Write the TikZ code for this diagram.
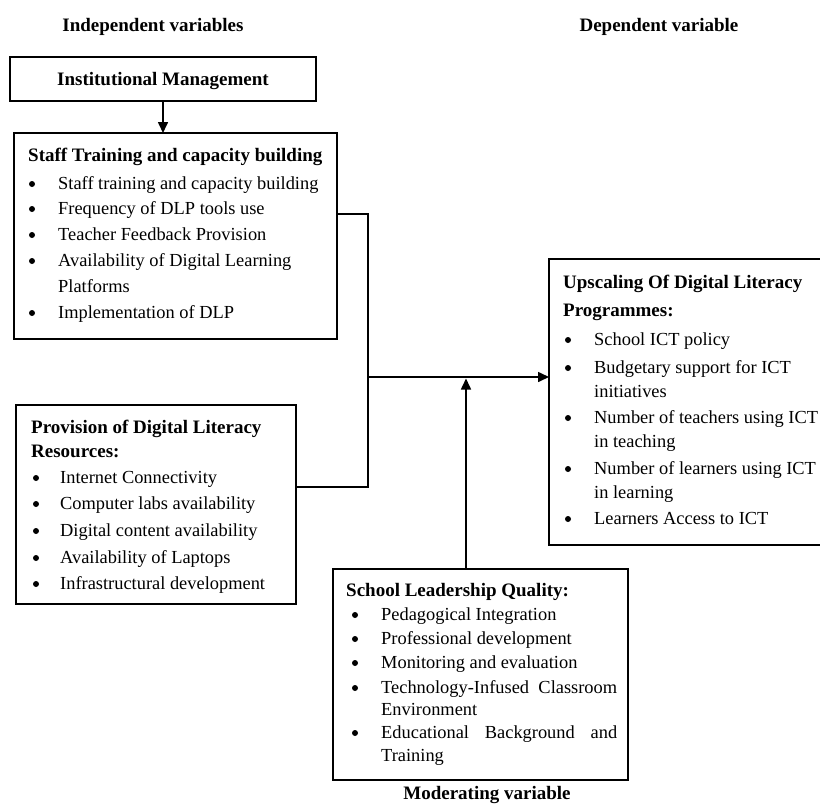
\documentclass[tikz,border=0pt]{standalone}
\usepackage{fontspec}
\setmainfont{Liberation Serif}
\usetikzlibrary{arrows.meta}
\begin{document}
\begin{tikzpicture}[x=1pt,y=-1pt,
  box/.style={draw, line width=1.6pt, inner sep=0pt, outer sep=0pt, anchor=north west},
  conn/.style={line width=1.6pt},
  arr/.style={line width=1.6pt, -{Triangle[length=11pt,width=10pt]}},
  txt/.style={anchor=base west, inner sep=0pt, font=\fontsize{18.4}{22}\selectfont},
  hd/.style={anchor=base west, inner sep=0pt, font=\fontsize{19}{22}\selectfont\bfseries},
  ttl/.style={anchor=base, inner sep=0pt, font=\fontsize{19}{22}\selectfont\bfseries},
  bul/.style={circle, fill, inner sep=0pt, minimum size=6pt, yshift=5pt}]
\useasboundingbox (0,0) rectangle (820,807);

% titles
\node[ttl] (indep) at (153,31) {Independent variables};
\node[ttl] (dep) at (659,31) {Dependent variable};
\node[ttl] (mod) at (487,799) {Moderating variable};

% boxes
\node[box, minimum width=306pt, minimum height=44pt] (inst) at (10,57) {};
\node[ttl] (insttxt) at (163,85) {Institutional Management};
\node[box, minimum width=323pt, minimum height=206pt] (staff) at (14,133) {};
\node[box, minimum width=280pt, minimum height=199pt] (prov) at (16,405) {};
\node[box, minimum width=295pt, minimum height=211pt] (school) at (333,569) {};
\node[box, minimum width=280pt, minimum height=286pt] (up) at (549,259) {};

% staff box text
\node[hd] (sh) at (28,161) {Staff Training and capacity building};
\foreach \y [count=\i] in {189,214,240,266,318}
  \node[bul] (sb\i) at (32,\y) {};
\foreach \y/\t [count=\i] in {189/Staff training and capacity building,
  214/Frequency of DLP tools use, 240/Teacher Feedback Provision,
  266/Availability of Digital Learning, 292/Platforms, 318/Implementation of DLP}
  \node[txt] (st\i) at (58,\y) {\t};

% provision box text
\node[hd] (ph1) at (31,433) {Provision of Digital Literacy};
\node[hd] (ph2) at (31,457) {Resources:};
\foreach \y [count=\i] in {483,509,536,563,589}
  \node[bul] (pb\i) at (36,\y) {};
\foreach \y/\t [count=\i] in {483/Internet Connectivity, 509/Computer labs availability,
  536/Digital content availability, 563/Availability of Laptops,
  589/Infrastructural development}
  \node[txt] (pt\i) at (60,\y) {\t};

% upscaling box text
\node[hd] (uh1) at (563,288) {Upscaling Of Digital Literacy};
\node[hd] (uh2) at (563,316) {Programmes:};
\foreach \y [count=\i] in {345,373,423,474,524}
  \node[bul] (ub\i) at (568,\y) {};
\foreach \y/\t [count=\i] in {345/School ICT policy, 373/Budgetary support for ICT,
  397/initiatives, 423/Number of teachers using ICT, 447/in teaching,
  474/Number of learners using ICT, 498/in learning, 524/Learners Access to ICT}
  \node[txt] (ut\i) at (594,\y) {\t};

% school box text
\node[hd] (lh) at (346,596) {School Leadership Quality:};
\foreach \y [count=\i] in {620,644,668,693,738}
  \node[bul] (lb\i) at (355,\y) {};
\node[txt] (lt1) at (381,620) {Pedagogical Integration};
\node[txt] (lt2) at (381,644) {Professional development};
\node[txt] (lt3) at (381,668) {Monitoring and evaluation};
\node[txt] (lt4) at (381,693) {\makebox[236pt][s]{Technology-Infused\hfill Classroom}};
\node[txt] (lt5) at (381,715) {Environment};
\node[txt] (lt6) at (381,738) {\makebox[236pt][s]{Educational\hfill Background\hfill and}};
\node[txt] (lt7) at (381,761) {Training};

% connectors
\coordinate (j) at (368,377);
\coordinate (sj) at (368,214);
\coordinate (pj) at (368,487);
\coordinate (mj) at (466,378.5);
\draw[arr] (inst.south) -- (inst.south |- staff.north);
\draw[conn] (staff.east |- sj) -| (j);
\draw[conn] (prov.east |- pj) -| (j);
\draw[arr] (j) -- (up.west |- j);
\draw[arr] (school.north -| mj) -- (mj);
\end{tikzpicture}
\end{document}
